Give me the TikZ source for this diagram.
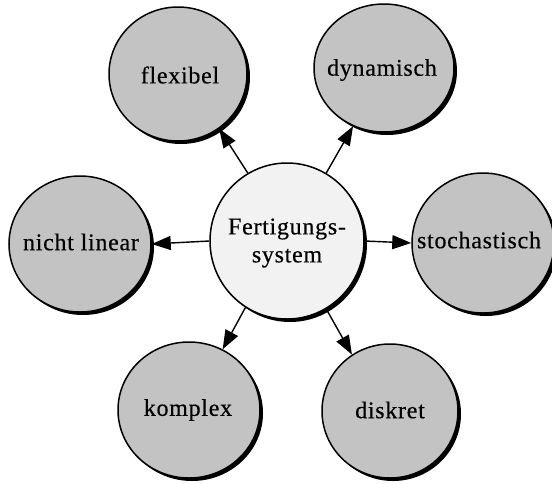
\documentclass[tikz,border=0pt]{standalone}
\usepackage{fontspec}
\setmainfont{Liberation Serif}
\newfontfamily\labfont[LetterSpace=3,FakeBold=0.4]{Liberation Serif}
\usetikzlibrary{shapes.geometric,shadows,arrows.meta}
\tikzset{
  bub/.style={ellipse, draw=black, line width=1.5pt, inner sep=0pt,
    drop shadow={fill=black, opacity=1, shadow xshift=3pt, shadow yshift=-3pt}},
  outerbub/.style={bub, fill=gray!47},
  centerbub/.style={bub, fill=gray!10},
  lab/.style={font=\labfont\fontsize{24}{28}\selectfont, align=center, inner sep=0pt},
  conn/.style={line width=1.4pt, -{Triangle[length=19pt,width=14pt]}}
}
\begin{document}
\begin{tikzpicture}[x=1pt,y=-1pt]
\useasboundingbox (0,0) rectangle (552,483);
\node[centerbub, minimum width=154pt, minimum height=156pt] (c) at (287,241) {};
\node[outerbub, minimum width=138pt, minimum height=134pt] (f) at (178,74) {};
\node[outerbub, minimum width=140pt, minimum height=128pt] (d) at (384,68) {};
\node[outerbub, minimum width=142pt, minimum height=136pt] (n) at (80,244) {};
\node[outerbub, minimum width=142pt, minimum height=140pt] (s) at (483,243) {};
\node[outerbub, minimum width=142pt, minimum height=136pt] (k) at (189,410) {};
\node[outerbub, minimum width=136pt, minimum height=134pt] (r) at (390,411) {};

\node[lab] (tc) at (287,243) {Fertigungs-\\system};
\node[lab] (tf) at (180,75) {flexibel};
\node[lab] (td) at (382,70) {dynamisch};
\node[lab] (tn) at (81,242) {nicht linear};
\node[lab] (ts) at (479,240) {stochastisch};
\node[lab] (tk) at (188,410) {komplex};
\node[lab] (tr) at (390,410) {diskret};

\draw[conn] (c.120) -- (f.-53);
\draw[conn] (c.60) -- (d.-118);
\draw[conn] (c.180) -- (n.0);
\draw[conn] (c.0) -- (s.180);
\draw[conn] (c.-122) -- (k.61);
\draw[conn] (c.-60) -- (r.124);
\end{tikzpicture}
\end{document}
